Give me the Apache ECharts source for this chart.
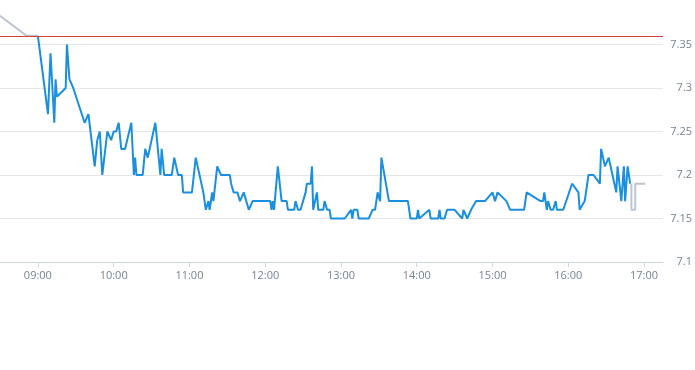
<!DOCTYPE html>
<html>
<head>
<meta charset="utf-8">
<script src="https://cdn.jsdelivr.net/npm/echarts@6/dist/echarts.min.js"></script>
<style>html,body{margin:0;padding:0;background:#fff}#c{width:695px;height:370px}</style>
</head>
<body>
<div id="c"></div>
<script>
// Session times (HH:MM) and prices of the main intraday series
const mainTimes = ["09:00","09:08","09:10","09:13","09:14","09:15","09:22","09:23","09:25","09:28","09:37","09:40","09:45","09:47","09:49","09:51","09:52","09:55","09:56","09:58","10:00","10:02","10:04","10:06","10:09","10:14","10:16","10:17","10:18","10:23","10:25","10:27","10:33","10:37","10:38","10:40","10:46","10:48","10:51","10:54","10:55","11:00","11:02","11:05","11:11","11:13","11:15","11:16","11:18","11:19","11:22","11:25","11:32","11:33","11:35","11:38","11:40","11:43","11:47","11:50","12:04","12:05","12:06","12:07","12:10","12:13","12:17","12:18","12:23","12:24","12:26","12:28","12:32","12:33","12:36","12:37","12:38","12:41","12:42","12:46","12:47","12:49","12:51","12:52","13:03","13:04","13:08","13:09","13:10","13:13","13:14","13:22","13:25","13:27","13:29","13:31","13:32","13:38","13:53","13:55","14:00","14:01","14:02","14:10","14:11","14:17","14:18","14:19","14:22","14:24","14:30","14:36","14:37","14:40","14:43","14:47","14:54","15:00","15:02","15:04","15:11","15:14","15:25","15:27","15:38","15:40","15:41","15:43","15:44","15:46","15:48","15:50","15:51","15:56","16:03","16:08","16:09","16:13","16:16","16:20","16:25","16:26","16:29","16:32","16:35","16:38","16:39","16:42","16:44","16:45","16:47","16:49"];
const mainPrices = [7.36,7.27,7.34,7.26,7.31,7.29,7.30,7.35,7.31,7.30,7.26,7.27,7.21,7.24,7.25,7.20,7.20,7.25,7.25,7.24,7.25,7.25,7.26,7.23,7.23,7.26,7.20,7.22,7.20,7.20,7.23,7.22,7.26,7.20,7.23,7.20,7.20,7.22,7.20,7.20,7.18,7.18,7.18,7.22,7.18,7.16,7.17,7.16,7.18,7.17,7.21,7.20,7.20,7.19,7.18,7.18,7.17,7.18,7.16,7.17,7.17,7.16,7.17,7.16,7.21,7.17,7.17,7.16,7.16,7.17,7.16,7.16,7.18,7.19,7.19,7.21,7.16,7.18,7.16,7.16,7.17,7.16,7.16,7.15,7.15,7.15,7.16,7.15,7.16,7.16,7.15,7.15,7.16,7.16,7.18,7.17,7.22,7.17,7.17,7.15,7.15,7.16,7.15,7.16,7.15,7.15,7.16,7.15,7.15,7.16,7.16,7.15,7.16,7.15,7.16,7.17,7.17,7.18,7.17,7.18,7.17,7.16,7.16,7.18,7.17,7.17,7.18,7.16,7.17,7.16,7.16,7.17,7.16,7.16,7.19,7.18,7.16,7.17,7.20,7.20,7.19,7.23,7.21,7.22,7.20,7.18,7.21,7.17,7.21,7.17,7.21,7.19];
// Pre-open (grey) series
const preTimes = ["08:30","08:51","09:00"];
const prePrices = [7.383,7.36,7.36];
// After-close (grey) series
const postTimes = ["16:50","16:50","16:53","16:53","17:01"];
const postPrices = [7.19,7.16,7.16,7.19,7.19];
// Previous close reference line
const prevClose = 7.36;
// Axis ticks
const xTickLabels = ["09:00","10:00","11:00","12:00","13:00","14:00","15:00","16:00","17:00"];
const xMin = "08:30", xMax = "17:15";
const yMin = 7.1, yMax = 7.4, yStep = 0.05;

const toMin = s => { const [h, m] = s.split(":").map(Number); return h * 60 + m; };
const fmt = v => { const h = Math.floor(v / 60), m = Math.round(v % 60); return String(h).padStart(2, "0") + ":" + String(m).padStart(2, "0"); };
const pair = (ts, ps) => ts.map((t, i) => [toMin(t), ps[i]]);

const labelStyle = { color: "#76838f", fontFamily: "Open Sans", fontSize: 11 };
const grey = "#bcc5cf";
const chart = echarts.init(document.getElementById("c"), null, { renderer: "canvas" });
chart.setOption({
  animation: false,
  backgroundColor: "#fff",
  grid: { left: 0, right: 30, top: 1, bottom: 108, containLabel: false },
  xAxis: {
    type: "value",
    min: toMin(xMin), max: toMin(xMax),
    axisLine: { show: true, lineStyle: { color: "#cfd6de", width: 1 } },
    axisTick: { show: true, length: 5, lineStyle: { color: "#cfd6de" }, customValues: xTickLabels.map(toMin) },
    axisLabel: Object.assign({ margin: 8, formatter: v => fmt(v), customValues: xTickLabels.map(toMin) }, labelStyle),
    splitLine: { show: false }
  },
  yAxis: {
    type: "value", position: "right",
    min: yMin, max: yMax, interval: yStep,
    axisLine: { show: false }, axisTick: { show: false },
    axisLabel: Object.assign({ align: "right", margin: 29, showMaxLabel: false, formatter: v => String(+v.toFixed(2)) }, labelStyle),
    splitLine: { show: true, showMaxLine: false, lineStyle: { color: "#e4e6e8", width: 1 } }
  },
  series: [
    {
      type: "line", data: pair(preTimes, prePrices), showSymbol: false, silent: true, z: 3,
      lineStyle: { color: grey, width: 2 }, itemStyle: { color: grey }
    },
    {
      type: "line", data: pair(postTimes, postPrices), showSymbol: false, silent: true, z: 3,
      lineStyle: { color: grey, width: 2 }, itemStyle: { color: grey }
    },
    {
      type: "line", data: pair(mainTimes, mainPrices), showSymbol: false, silent: true, z: 4,
      lineStyle: { color: "#1a8fe0", width: 2 }, itemStyle: { color: "#1a8fe0" },
      markLine: {
        silent: true, symbol: ["none", "none"], label: { show: false },
        lineStyle: { color: "#d2413a", width: 1, type: "solid" },
        data: [{ yAxis: prevClose }]
      }
    }
  ]
});
</script>
</body>
</html>
